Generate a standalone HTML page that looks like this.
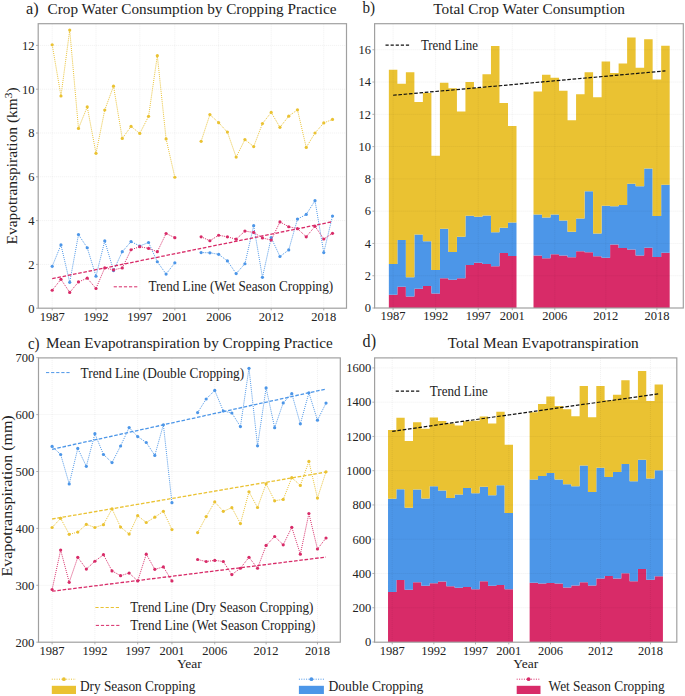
<!DOCTYPE html><html><head><meta charset="utf-8"><style>html,body{margin:0;padding:0;background:#fff;}svg{display:block;}</style></head><body>
<svg width="685" height="696" viewBox="0 0 685 696" font-family='"Liberation Serif", serif' fill="#222222">
<rect width="685" height="696" fill="#fff"/>
<line x1="52.20" y1="23.70" x2="52.20" y2="308.20" stroke="rgba(0,0,0,0.07)" stroke-width="0.9" stroke-dasharray="1 1"/>
<line x1="96.00" y1="23.70" x2="96.00" y2="308.20" stroke="rgba(0,0,0,0.07)" stroke-width="0.9" stroke-dasharray="1 1"/>
<line x1="139.80" y1="23.70" x2="139.80" y2="308.20" stroke="rgba(0,0,0,0.07)" stroke-width="0.9" stroke-dasharray="1 1"/>
<line x1="174.84" y1="23.70" x2="174.84" y2="308.20" stroke="rgba(0,0,0,0.07)" stroke-width="0.9" stroke-dasharray="1 1"/>
<line x1="218.64" y1="23.70" x2="218.64" y2="308.20" stroke="rgba(0,0,0,0.07)" stroke-width="0.9" stroke-dasharray="1 1"/>
<line x1="271.20" y1="23.70" x2="271.20" y2="308.20" stroke="rgba(0,0,0,0.07)" stroke-width="0.9" stroke-dasharray="1 1"/>
<line x1="323.76" y1="23.70" x2="323.76" y2="308.20" stroke="rgba(0,0,0,0.07)" stroke-width="0.9" stroke-dasharray="1 1"/>
<line x1="38.20" y1="264.40" x2="346.50" y2="264.40" stroke="rgba(0,0,0,0.07)" stroke-width="0.9" stroke-dasharray="1 1"/>
<line x1="38.20" y1="220.60" x2="346.50" y2="220.60" stroke="rgba(0,0,0,0.07)" stroke-width="0.9" stroke-dasharray="1 1"/>
<line x1="38.20" y1="176.80" x2="346.50" y2="176.80" stroke="rgba(0,0,0,0.07)" stroke-width="0.9" stroke-dasharray="1 1"/>
<line x1="38.20" y1="133.00" x2="346.50" y2="133.00" stroke="rgba(0,0,0,0.07)" stroke-width="0.9" stroke-dasharray="1 1"/>
<line x1="38.20" y1="89.20" x2="346.50" y2="89.20" stroke="rgba(0,0,0,0.07)" stroke-width="0.9" stroke-dasharray="1 1"/>
<line x1="38.20" y1="45.40" x2="346.50" y2="45.40" stroke="rgba(0,0,0,0.07)" stroke-width="0.9" stroke-dasharray="1 1"/>
<polyline points="52.20,44.74 60.96,95.99 69.72,30.07 78.48,128.40 87.24,106.94 96.00,153.37 104.76,110.00 113.52,86.13 122.28,138.47 131.04,126.43 139.80,133.44 148.56,116.36 157.32,55.69 166.08,138.91 174.84,177.24" fill="none" stroke="#eac232" stroke-width="1" stroke-dasharray="1 1.1"/>
<polyline points="201.12,141.32 209.88,114.60 218.64,122.71 227.40,132.12 236.16,157.09 244.92,139.57 253.68,146.58 262.44,123.58 271.20,112.41 279.96,127.31 288.72,116.14 297.48,109.79 306.24,147.45 315.00,133.00 323.76,122.93 332.52,119.42" fill="none" stroke="#eac232" stroke-width="1" stroke-dasharray="1 1.1"/>
<circle cx="52.20" cy="44.74" r="1.6" fill="#eac232"/>
<circle cx="60.96" cy="95.99" r="1.6" fill="#eac232"/>
<circle cx="69.72" cy="30.07" r="1.6" fill="#eac232"/>
<circle cx="78.48" cy="128.40" r="1.6" fill="#eac232"/>
<circle cx="87.24" cy="106.94" r="1.6" fill="#eac232"/>
<circle cx="96.00" cy="153.37" r="1.6" fill="#eac232"/>
<circle cx="104.76" cy="110.00" r="1.6" fill="#eac232"/>
<circle cx="113.52" cy="86.13" r="1.6" fill="#eac232"/>
<circle cx="122.28" cy="138.47" r="1.6" fill="#eac232"/>
<circle cx="131.04" cy="126.43" r="1.6" fill="#eac232"/>
<circle cx="139.80" cy="133.44" r="1.6" fill="#eac232"/>
<circle cx="148.56" cy="116.36" r="1.6" fill="#eac232"/>
<circle cx="157.32" cy="55.69" r="1.6" fill="#eac232"/>
<circle cx="166.08" cy="138.91" r="1.6" fill="#eac232"/>
<circle cx="174.84" cy="177.24" r="1.6" fill="#eac232"/>
<circle cx="201.12" cy="141.32" r="1.6" fill="#eac232"/>
<circle cx="209.88" cy="114.60" r="1.6" fill="#eac232"/>
<circle cx="218.64" cy="122.71" r="1.6" fill="#eac232"/>
<circle cx="227.40" cy="132.12" r="1.6" fill="#eac232"/>
<circle cx="236.16" cy="157.09" r="1.6" fill="#eac232"/>
<circle cx="244.92" cy="139.57" r="1.6" fill="#eac232"/>
<circle cx="253.68" cy="146.58" r="1.6" fill="#eac232"/>
<circle cx="262.44" cy="123.58" r="1.6" fill="#eac232"/>
<circle cx="271.20" cy="112.41" r="1.6" fill="#eac232"/>
<circle cx="279.96" cy="127.31" r="1.6" fill="#eac232"/>
<circle cx="288.72" cy="116.14" r="1.6" fill="#eac232"/>
<circle cx="297.48" cy="109.79" r="1.6" fill="#eac232"/>
<circle cx="306.24" cy="147.45" r="1.6" fill="#eac232"/>
<circle cx="315.00" cy="133.00" r="1.6" fill="#eac232"/>
<circle cx="323.76" cy="122.93" r="1.6" fill="#eac232"/>
<circle cx="332.52" cy="119.42" r="1.6" fill="#eac232"/>
<polyline points="52.20,266.37 60.96,244.91 69.72,282.36 78.48,234.62 87.24,247.76 96.00,276.23 104.76,240.97 113.52,270.53 122.28,251.70 131.04,241.62 139.80,246.00 148.56,242.50 157.32,261.77 166.08,274.04 174.84,262.87" fill="none" stroke="#4c96e8" stroke-width="1" stroke-dasharray="1 1.1"/>
<polyline points="201.12,252.57 209.88,252.79 218.64,254.33 227.40,260.90 236.16,273.60 244.92,263.74 253.68,225.64 262.44,277.32 271.20,237.68 279.96,256.52 288.72,249.95 297.48,219.07 306.24,214.47 315.00,200.67 323.76,252.57 332.52,216.00" fill="none" stroke="#4c96e8" stroke-width="1" stroke-dasharray="1 1.1"/>
<circle cx="52.20" cy="266.37" r="1.6" fill="#4c96e8"/>
<circle cx="60.96" cy="244.91" r="1.6" fill="#4c96e8"/>
<circle cx="69.72" cy="282.36" r="1.6" fill="#4c96e8"/>
<circle cx="78.48" cy="234.62" r="1.6" fill="#4c96e8"/>
<circle cx="87.24" cy="247.76" r="1.6" fill="#4c96e8"/>
<circle cx="96.00" cy="276.23" r="1.6" fill="#4c96e8"/>
<circle cx="104.76" cy="240.97" r="1.6" fill="#4c96e8"/>
<circle cx="113.52" cy="270.53" r="1.6" fill="#4c96e8"/>
<circle cx="122.28" cy="251.70" r="1.6" fill="#4c96e8"/>
<circle cx="131.04" cy="241.62" r="1.6" fill="#4c96e8"/>
<circle cx="139.80" cy="246.00" r="1.6" fill="#4c96e8"/>
<circle cx="148.56" cy="242.50" r="1.6" fill="#4c96e8"/>
<circle cx="157.32" cy="261.77" r="1.6" fill="#4c96e8"/>
<circle cx="166.08" cy="274.04" r="1.6" fill="#4c96e8"/>
<circle cx="174.84" cy="262.87" r="1.6" fill="#4c96e8"/>
<circle cx="201.12" cy="252.57" r="1.6" fill="#4c96e8"/>
<circle cx="209.88" cy="252.79" r="1.6" fill="#4c96e8"/>
<circle cx="218.64" cy="254.33" r="1.6" fill="#4c96e8"/>
<circle cx="227.40" cy="260.90" r="1.6" fill="#4c96e8"/>
<circle cx="236.16" cy="273.60" r="1.6" fill="#4c96e8"/>
<circle cx="244.92" cy="263.74" r="1.6" fill="#4c96e8"/>
<circle cx="253.68" cy="225.64" r="1.6" fill="#4c96e8"/>
<circle cx="262.44" cy="277.32" r="1.6" fill="#4c96e8"/>
<circle cx="271.20" cy="237.68" r="1.6" fill="#4c96e8"/>
<circle cx="279.96" cy="256.52" r="1.6" fill="#4c96e8"/>
<circle cx="288.72" cy="249.95" r="1.6" fill="#4c96e8"/>
<circle cx="297.48" cy="219.07" r="1.6" fill="#4c96e8"/>
<circle cx="306.24" cy="214.47" r="1.6" fill="#4c96e8"/>
<circle cx="315.00" cy="200.67" r="1.6" fill="#4c96e8"/>
<circle cx="323.76" cy="252.57" r="1.6" fill="#4c96e8"/>
<circle cx="332.52" cy="216.00" r="1.6" fill="#4c96e8"/>
<polyline points="52.20,290.24 60.96,279.29 69.72,292.43 78.48,281.92 87.24,278.20 96.00,288.49 104.76,267.90 113.52,269.88 122.28,267.90 131.04,249.73 139.80,246.66 148.56,248.41 157.32,251.70 166.08,233.52 174.84,237.68" fill="none" stroke="#d82b68" stroke-width="1" stroke-dasharray="1 1.1"/>
<polyline points="201.12,236.81 209.88,240.75 218.64,235.27 227.40,236.81 236.16,239.21 244.92,231.11 253.68,232.43 262.44,237.90 271.20,240.09 279.96,221.91 288.72,226.73 297.48,228.70 306.24,236.81 315.00,226.29 323.76,239.00 332.52,233.30" fill="none" stroke="#d82b68" stroke-width="1" stroke-dasharray="1 1.1"/>
<circle cx="52.20" cy="290.24" r="1.6" fill="#d82b68"/>
<circle cx="60.96" cy="279.29" r="1.6" fill="#d82b68"/>
<circle cx="69.72" cy="292.43" r="1.6" fill="#d82b68"/>
<circle cx="78.48" cy="281.92" r="1.6" fill="#d82b68"/>
<circle cx="87.24" cy="278.20" r="1.6" fill="#d82b68"/>
<circle cx="96.00" cy="288.49" r="1.6" fill="#d82b68"/>
<circle cx="104.76" cy="267.90" r="1.6" fill="#d82b68"/>
<circle cx="113.52" cy="269.88" r="1.6" fill="#d82b68"/>
<circle cx="122.28" cy="267.90" r="1.6" fill="#d82b68"/>
<circle cx="131.04" cy="249.73" r="1.6" fill="#d82b68"/>
<circle cx="139.80" cy="246.66" r="1.6" fill="#d82b68"/>
<circle cx="148.56" cy="248.41" r="1.6" fill="#d82b68"/>
<circle cx="157.32" cy="251.70" r="1.6" fill="#d82b68"/>
<circle cx="166.08" cy="233.52" r="1.6" fill="#d82b68"/>
<circle cx="174.84" cy="237.68" r="1.6" fill="#d82b68"/>
<circle cx="201.12" cy="236.81" r="1.6" fill="#d82b68"/>
<circle cx="209.88" cy="240.75" r="1.6" fill="#d82b68"/>
<circle cx="218.64" cy="235.27" r="1.6" fill="#d82b68"/>
<circle cx="227.40" cy="236.81" r="1.6" fill="#d82b68"/>
<circle cx="236.16" cy="239.21" r="1.6" fill="#d82b68"/>
<circle cx="244.92" cy="231.11" r="1.6" fill="#d82b68"/>
<circle cx="253.68" cy="232.43" r="1.6" fill="#d82b68"/>
<circle cx="262.44" cy="237.90" r="1.6" fill="#d82b68"/>
<circle cx="271.20" cy="240.09" r="1.6" fill="#d82b68"/>
<circle cx="279.96" cy="221.91" r="1.6" fill="#d82b68"/>
<circle cx="288.72" cy="226.73" r="1.6" fill="#d82b68"/>
<circle cx="297.48" cy="228.70" r="1.6" fill="#d82b68"/>
<circle cx="306.24" cy="236.81" r="1.6" fill="#d82b68"/>
<circle cx="315.00" cy="226.29" r="1.6" fill="#d82b68"/>
<circle cx="323.76" cy="239.00" r="1.6" fill="#d82b68"/>
<circle cx="332.52" cy="233.30" r="1.6" fill="#d82b68"/>
<line x1="52.20" y1="278.64" x2="332.52" y2="221.69" stroke="#d82b68" stroke-width="1.3" stroke-dasharray="3.6 1.7"/>
<rect x="38.20" y="23.70" width="308.30" height="284.50" fill="none" stroke="#a0a0a0" stroke-width="1.2"/>
<line x1="52.20" y1="308.20" x2="52.20" y2="310.40" stroke="#999" stroke-width="0.8"/>
<text x="52.20" y="320.60" text-anchor="middle" font-size="12.5">1987</text>
<line x1="96.00" y1="308.20" x2="96.00" y2="310.40" stroke="#999" stroke-width="0.8"/>
<text x="96.00" y="320.60" text-anchor="middle" font-size="12.5">1992</text>
<line x1="139.80" y1="308.20" x2="139.80" y2="310.40" stroke="#999" stroke-width="0.8"/>
<text x="139.80" y="320.60" text-anchor="middle" font-size="12.5">1997</text>
<line x1="174.84" y1="308.20" x2="174.84" y2="310.40" stroke="#999" stroke-width="0.8"/>
<text x="174.84" y="320.60" text-anchor="middle" font-size="12.5">2001</text>
<line x1="218.64" y1="308.20" x2="218.64" y2="310.40" stroke="#999" stroke-width="0.8"/>
<text x="218.64" y="320.60" text-anchor="middle" font-size="12.5">2006</text>
<line x1="271.20" y1="308.20" x2="271.20" y2="310.40" stroke="#999" stroke-width="0.8"/>
<text x="271.20" y="320.60" text-anchor="middle" font-size="12.5">2012</text>
<line x1="323.76" y1="308.20" x2="323.76" y2="310.40" stroke="#999" stroke-width="0.8"/>
<text x="323.76" y="320.60" text-anchor="middle" font-size="12.5">2018</text>
<line x1="36.00" y1="308.20" x2="38.20" y2="308.20" stroke="#999" stroke-width="0.8"/>
<text x="34.50" y="312.50" text-anchor="end" font-size="12.5">0</text>
<line x1="36.00" y1="264.40" x2="38.20" y2="264.40" stroke="#999" stroke-width="0.8"/>
<text x="34.50" y="268.70" text-anchor="end" font-size="12.5">2</text>
<line x1="36.00" y1="220.60" x2="38.20" y2="220.60" stroke="#999" stroke-width="0.8"/>
<text x="34.50" y="224.90" text-anchor="end" font-size="12.5">4</text>
<line x1="36.00" y1="176.80" x2="38.20" y2="176.80" stroke="#999" stroke-width="0.8"/>
<text x="34.50" y="181.10" text-anchor="end" font-size="12.5">6</text>
<line x1="36.00" y1="133.00" x2="38.20" y2="133.00" stroke="#999" stroke-width="0.8"/>
<text x="34.50" y="137.30" text-anchor="end" font-size="12.5">8</text>
<line x1="36.00" y1="89.20" x2="38.20" y2="89.20" stroke="#999" stroke-width="0.8"/>
<text x="34.50" y="93.50" text-anchor="end" font-size="12.5">10</text>
<line x1="36.00" y1="45.40" x2="38.20" y2="45.40" stroke="#999" stroke-width="0.8"/>
<text x="34.50" y="49.70" text-anchor="end" font-size="12.5">12</text>
<line x1="113.7" y1="286.8" x2="138" y2="286.8" stroke="#d82b68" stroke-width="1" stroke-dasharray="3.2 1.9"/>
<text x="148.40" y="291.10" font-size="14.3" text-anchor="start" textLength="184.70" lengthAdjust="spacingAndGlyphs">Trend Line (Wet Season Cropping)</text>
<text x="26.00" y="13.50" font-size="17.5" text-anchor="start" textLength="12.60" lengthAdjust="spacingAndGlyphs">a)</text>
<text x="47.60" y="13.70" font-size="15" text-anchor="start" textLength="288.90" lengthAdjust="spacingAndGlyphs">Crop Water Consumption by Cropping Practice</text>
<text transform="translate(17.1,244.4) rotate(-90)" font-size="15" textLength="157" lengthAdjust="spacingAndGlyphs">Evapotranspiration (km<tspan dy="-5.5" font-size="11">3</tspan><tspan dy="5.5">)</tspan></text>
<path d="M388.85,294.77 L397.36,294.77 L397.36,286.70 L405.87,286.70 L405.87,296.38 L414.38,296.38 L414.38,288.63 L422.88,288.63 L422.89,285.89 L431.40,285.89 L431.40,293.47 L439.91,293.47 L439.91,278.30 L448.42,278.30 L448.42,279.75 L456.93,279.75 L456.93,278.30 L465.44,278.30 L465.44,264.91 L473.95,264.91 L473.95,262.65 L482.46,262.65 L482.46,263.94 L490.97,263.94 L490.97,266.36 L499.48,266.36 L499.48,252.96 L507.99,252.96 L507.99,256.03 L516.50,256.03 L516.50,308.00 L507.99,308.00 L507.99,308.00 L499.48,308.00 L499.48,308.00 L490.97,308.00 L490.97,308.00 L482.46,308.00 L482.46,308.00 L473.95,308.00 L473.95,308.00 L465.44,308.00 L465.44,308.00 L456.93,308.00 L456.93,308.00 L448.42,308.00 L448.42,308.00 L439.91,308.00 L439.91,308.00 L431.40,308.00 L431.40,308.00 L422.89,308.00 L422.88,308.00 L414.38,308.00 L414.38,308.00 L405.87,308.00 L405.87,308.00 L397.36,308.00 L397.36,308.00 L388.85,308.00Z" fill="#d82b68"/>
<path d="M388.85,263.94 L397.36,263.94 L397.36,240.05 L405.87,240.05 L405.87,277.33 L414.38,277.33 L414.38,234.40 L422.88,234.40 L422.89,241.34 L431.40,241.34 L431.40,269.91 L439.91,269.91 L439.91,228.75 L448.42,228.75 L448.42,251.99 L456.93,251.99 L456.93,236.66 L465.44,236.66 L465.44,215.84 L473.95,215.84 L473.95,216.81 L482.46,216.81 L482.46,215.52 L490.97,215.52 L490.97,232.14 L499.48,232.14 L499.48,227.78 L507.99,227.78 L507.99,222.62 L516.50,222.62 L516.50,256.03 L507.99,256.03 L507.99,252.96 L499.48,252.96 L499.48,266.36 L490.97,266.36 L490.97,263.94 L482.46,263.94 L482.46,262.65 L473.95,262.65 L473.95,264.91 L465.44,264.91 L465.44,278.30 L456.93,278.30 L456.93,279.75 L448.42,279.75 L448.42,278.30 L439.91,278.30 L439.91,293.47 L431.40,293.47 L431.40,285.89 L422.89,285.89 L422.88,288.63 L414.38,288.63 L414.38,296.38 L405.87,296.38 L405.87,286.70 L397.36,286.70 L397.36,294.77 L388.85,294.77Z" fill="#4c96e8"/>
<path d="M388.85,69.77 L397.36,69.77 L397.36,83.65 L405.87,83.65 L405.87,72.36 L414.38,72.36 L414.38,101.89 L422.88,101.89 L422.89,93.02 L431.40,93.02 L431.40,155.80 L439.91,155.80 L439.91,82.69 L448.42,82.69 L448.42,88.33 L456.93,88.33 L456.93,111.58 L465.44,111.58 L465.44,81.88 L473.95,81.88 L473.95,88.01 L482.46,88.01 L482.46,74.13 L490.97,74.13 L490.97,46.05 L499.48,46.05 L499.48,103.02 L507.99,103.02 L507.99,126.10 L516.50,126.10 L516.50,222.62 L507.99,222.62 L507.99,227.78 L499.48,227.78 L499.48,232.14 L490.97,232.14 L490.97,215.52 L482.46,215.52 L482.46,216.81 L473.95,216.81 L473.95,215.84 L465.44,215.84 L465.44,236.66 L456.93,236.66 L456.93,251.99 L448.42,251.99 L448.42,228.75 L439.91,228.75 L439.91,269.91 L431.40,269.91 L431.40,241.34 L422.89,241.34 L422.88,234.40 L414.38,234.40 L414.38,277.33 L405.87,277.33 L405.87,240.05 L397.36,240.05 L397.36,263.94 L388.85,263.94Z" fill="#eac232"/>
<path d="M533.51,255.38 L542.02,255.38 L542.02,258.29 L550.53,258.29 L550.53,254.25 L559.04,254.25 L559.04,255.38 L567.55,255.38 L567.56,257.16 L576.07,257.16 L576.07,251.19 L584.58,251.19 L584.58,252.16 L593.09,252.16 L593.09,256.19 L601.60,256.19 L601.60,257.80 L610.11,257.80 L610.11,244.41 L618.62,244.41 L618.62,247.96 L627.12,247.96 L627.12,249.41 L635.63,249.41 L635.63,255.38 L644.14,255.38 L644.14,247.64 L652.65,247.64 L652.66,257.00 L661.17,257.00 L661.17,252.80 L669.68,252.80 L669.68,308.00 L661.17,308.00 L661.17,308.00 L652.66,308.00 L652.65,308.00 L644.14,308.00 L644.14,308.00 L635.63,308.00 L635.63,308.00 L627.12,308.00 L627.12,308.00 L618.62,308.00 L618.62,308.00 L610.11,308.00 L610.11,308.00 L601.60,308.00 L601.60,308.00 L593.09,308.00 L593.09,308.00 L584.58,308.00 L584.58,308.00 L576.07,308.00 L576.07,308.00 L567.56,308.00 L567.55,308.00 L559.04,308.00 L559.04,308.00 L550.53,308.00 L550.53,308.00 L542.02,308.00 L542.02,308.00 L533.51,308.00Z" fill="#d82b68"/>
<path d="M533.51,214.39 L542.02,214.39 L542.02,217.45 L550.53,217.45 L550.53,214.55 L559.04,214.55 L559.04,220.52 L567.55,220.52 L567.56,231.66 L576.07,231.66 L576.07,218.42 L584.58,218.42 L584.58,191.31 L593.09,191.31 L593.09,233.43 L601.60,233.43 L601.60,205.83 L610.11,205.83 L610.11,206.32 L618.62,206.32 L618.62,205.03 L627.12,205.03 L627.12,183.72 L635.63,183.72 L635.63,186.30 L644.14,186.30 L644.14,168.39 L652.65,168.39 L652.66,216.00 L661.17,216.00 L661.17,184.85 L669.68,184.85 L669.68,252.80 L661.17,252.80 L661.17,257.00 L652.66,257.00 L652.65,247.64 L644.14,247.64 L644.14,255.38 L635.63,255.38 L635.63,249.41 L627.12,249.41 L627.12,247.96 L618.62,247.96 L618.62,244.41 L610.11,244.41 L610.11,257.80 L601.60,257.80 L601.60,256.19 L593.09,256.19 L593.09,252.16 L584.58,252.16 L584.58,251.19 L576.07,251.19 L576.07,257.16 L567.56,257.16 L567.55,255.38 L559.04,255.38 L559.04,254.25 L550.53,254.25 L550.53,258.29 L542.02,258.29 L542.02,255.38 L533.51,255.38Z" fill="#4c96e8"/>
<path d="M533.51,91.40 L542.02,91.40 L542.02,74.78 L550.53,74.78 L550.53,77.84 L559.04,77.84 L559.04,90.76 L567.55,90.76 L567.56,120.29 L576.07,120.29 L576.07,94.14 L584.58,94.14 L584.58,72.19 L593.09,72.19 L593.09,97.37 L601.60,97.37 L601.60,61.54 L610.11,61.54 L610.11,73.00 L618.62,73.00 L618.62,63.48 L627.12,63.48 L627.12,37.49 L635.63,37.49 L635.63,67.84 L644.14,67.84 L644.14,39.27 L652.65,39.27 L652.66,79.46 L661.17,79.46 L661.17,45.72 L669.68,45.72 L669.68,184.85 L661.17,184.85 L661.17,216.00 L652.66,216.00 L652.65,168.39 L644.14,168.39 L644.14,186.30 L635.63,186.30 L635.63,183.72 L627.12,183.72 L627.12,205.03 L618.62,205.03 L618.62,206.32 L610.11,206.32 L610.11,205.83 L601.60,205.83 L601.60,233.43 L593.09,233.43 L593.09,191.31 L584.58,191.31 L584.58,218.42 L576.07,218.42 L576.07,231.66 L567.56,231.66 L567.55,220.52 L559.04,220.52 L559.04,214.55 L550.53,214.55 L550.53,217.45 L542.02,217.45 L542.02,214.39 L533.51,214.39Z" fill="#eac232"/>
<line x1="393.10" y1="23.70" x2="393.10" y2="308.00" stroke="rgba(0,0,0,0.07)" stroke-width="0.9" stroke-dasharray="1 1"/>
<line x1="435.65" y1="23.70" x2="435.65" y2="308.00" stroke="rgba(0,0,0,0.07)" stroke-width="0.9" stroke-dasharray="1 1"/>
<line x1="478.20" y1="23.70" x2="478.20" y2="308.00" stroke="rgba(0,0,0,0.07)" stroke-width="0.9" stroke-dasharray="1 1"/>
<line x1="512.24" y1="23.70" x2="512.24" y2="308.00" stroke="rgba(0,0,0,0.07)" stroke-width="0.9" stroke-dasharray="1 1"/>
<line x1="554.79" y1="23.70" x2="554.79" y2="308.00" stroke="rgba(0,0,0,0.07)" stroke-width="0.9" stroke-dasharray="1 1"/>
<line x1="605.85" y1="23.70" x2="605.85" y2="308.00" stroke="rgba(0,0,0,0.07)" stroke-width="0.9" stroke-dasharray="1 1"/>
<line x1="656.91" y1="23.70" x2="656.91" y2="308.00" stroke="rgba(0,0,0,0.07)" stroke-width="0.9" stroke-dasharray="1 1"/>
<line x1="374.60" y1="275.72" x2="683.30" y2="275.72" stroke="rgba(0,0,0,0.07)" stroke-width="0.9" stroke-dasharray="1 1"/>
<line x1="374.60" y1="243.44" x2="683.30" y2="243.44" stroke="rgba(0,0,0,0.07)" stroke-width="0.9" stroke-dasharray="1 1"/>
<line x1="374.60" y1="211.16" x2="683.30" y2="211.16" stroke="rgba(0,0,0,0.07)" stroke-width="0.9" stroke-dasharray="1 1"/>
<line x1="374.60" y1="178.88" x2="683.30" y2="178.88" stroke="rgba(0,0,0,0.07)" stroke-width="0.9" stroke-dasharray="1 1"/>
<line x1="374.60" y1="146.60" x2="683.30" y2="146.60" stroke="rgba(0,0,0,0.07)" stroke-width="0.9" stroke-dasharray="1 1"/>
<line x1="374.60" y1="114.32" x2="683.30" y2="114.32" stroke="rgba(0,0,0,0.07)" stroke-width="0.9" stroke-dasharray="1 1"/>
<line x1="374.60" y1="82.04" x2="683.30" y2="82.04" stroke="rgba(0,0,0,0.07)" stroke-width="0.9" stroke-dasharray="1 1"/>
<line x1="374.60" y1="49.76" x2="683.30" y2="49.76" stroke="rgba(0,0,0,0.07)" stroke-width="0.9" stroke-dasharray="1 1"/>
<line x1="393.10" y1="95.27" x2="665.42" y2="70.90" stroke="#111" stroke-width="1.2" stroke-dasharray="3.6 1.7"/>
<rect x="374.60" y="23.70" width="308.70" height="284.30" fill="none" stroke="#a0a0a0" stroke-width="1.2"/>
<line x1="393.10" y1="308.00" x2="393.10" y2="310.20" stroke="#999" stroke-width="0.8"/>
<text x="393.10" y="320.00" text-anchor="middle" font-size="12.5">1987</text>
<line x1="435.65" y1="308.00" x2="435.65" y2="310.20" stroke="#999" stroke-width="0.8"/>
<text x="435.65" y="320.00" text-anchor="middle" font-size="12.5">1992</text>
<line x1="478.20" y1="308.00" x2="478.20" y2="310.20" stroke="#999" stroke-width="0.8"/>
<text x="478.20" y="320.00" text-anchor="middle" font-size="12.5">1997</text>
<line x1="512.24" y1="308.00" x2="512.24" y2="310.20" stroke="#999" stroke-width="0.8"/>
<text x="512.24" y="320.00" text-anchor="middle" font-size="12.5">2001</text>
<line x1="554.79" y1="308.00" x2="554.79" y2="310.20" stroke="#999" stroke-width="0.8"/>
<text x="554.79" y="320.00" text-anchor="middle" font-size="12.5">2006</text>
<line x1="605.85" y1="308.00" x2="605.85" y2="310.20" stroke="#999" stroke-width="0.8"/>
<text x="605.85" y="320.00" text-anchor="middle" font-size="12.5">2012</text>
<line x1="656.91" y1="308.00" x2="656.91" y2="310.20" stroke="#999" stroke-width="0.8"/>
<text x="656.91" y="320.00" text-anchor="middle" font-size="12.5">2018</text>
<line x1="372.40" y1="308.00" x2="374.60" y2="308.00" stroke="#999" stroke-width="0.8"/>
<text x="371.10" y="312.30" text-anchor="end" font-size="12.5">0</text>
<line x1="372.40" y1="275.72" x2="374.60" y2="275.72" stroke="#999" stroke-width="0.8"/>
<text x="371.10" y="280.02" text-anchor="end" font-size="12.5">2</text>
<line x1="372.40" y1="243.44" x2="374.60" y2="243.44" stroke="#999" stroke-width="0.8"/>
<text x="371.10" y="247.74" text-anchor="end" font-size="12.5">4</text>
<line x1="372.40" y1="211.16" x2="374.60" y2="211.16" stroke="#999" stroke-width="0.8"/>
<text x="371.10" y="215.46" text-anchor="end" font-size="12.5">6</text>
<line x1="372.40" y1="178.88" x2="374.60" y2="178.88" stroke="#999" stroke-width="0.8"/>
<text x="371.10" y="183.18" text-anchor="end" font-size="12.5">8</text>
<line x1="372.40" y1="146.60" x2="374.60" y2="146.60" stroke="#999" stroke-width="0.8"/>
<text x="371.10" y="150.90" text-anchor="end" font-size="12.5">10</text>
<line x1="372.40" y1="114.32" x2="374.60" y2="114.32" stroke="#999" stroke-width="0.8"/>
<text x="371.10" y="118.62" text-anchor="end" font-size="12.5">12</text>
<line x1="372.40" y1="82.04" x2="374.60" y2="82.04" stroke="#999" stroke-width="0.8"/>
<text x="371.10" y="86.34" text-anchor="end" font-size="12.5">14</text>
<line x1="372.40" y1="49.76" x2="374.60" y2="49.76" stroke="#999" stroke-width="0.8"/>
<text x="371.10" y="54.06" text-anchor="end" font-size="12.5">16</text>
<line x1="385.5" y1="45.1" x2="410" y2="45.1" stroke="#111" stroke-width="1.3" stroke-dasharray="3.2 1.9"/>
<text x="420.90" y="49.50" font-size="14.3" text-anchor="start" textLength="57.10" lengthAdjust="spacingAndGlyphs">Trend Line</text>
<text x="362.40" y="13.30" font-size="17.5" text-anchor="start" textLength="12.60" lengthAdjust="spacingAndGlyphs">b)</text>
<text x="433.20" y="13.90" font-size="15" text-anchor="start" textLength="191.80" lengthAdjust="spacingAndGlyphs">Total Crop Water Consumption</text>
<line x1="52.10" y1="357.90" x2="52.10" y2="642.20" stroke="rgba(0,0,0,0.07)" stroke-width="0.9" stroke-dasharray="1 1"/>
<line x1="94.90" y1="357.90" x2="94.90" y2="642.20" stroke="rgba(0,0,0,0.07)" stroke-width="0.9" stroke-dasharray="1 1"/>
<line x1="137.70" y1="357.90" x2="137.70" y2="642.20" stroke="rgba(0,0,0,0.07)" stroke-width="0.9" stroke-dasharray="1 1"/>
<line x1="171.94" y1="357.90" x2="171.94" y2="642.20" stroke="rgba(0,0,0,0.07)" stroke-width="0.9" stroke-dasharray="1 1"/>
<line x1="214.74" y1="357.90" x2="214.74" y2="642.20" stroke="rgba(0,0,0,0.07)" stroke-width="0.9" stroke-dasharray="1 1"/>
<line x1="266.10" y1="357.90" x2="266.10" y2="642.20" stroke="rgba(0,0,0,0.07)" stroke-width="0.9" stroke-dasharray="1 1"/>
<line x1="317.46" y1="357.90" x2="317.46" y2="642.20" stroke="rgba(0,0,0,0.07)" stroke-width="0.9" stroke-dasharray="1 1"/>
<line x1="38.50" y1="585.30" x2="340.30" y2="585.30" stroke="rgba(0,0,0,0.07)" stroke-width="0.9" stroke-dasharray="1 1"/>
<line x1="38.50" y1="528.40" x2="340.30" y2="528.40" stroke="rgba(0,0,0,0.07)" stroke-width="0.9" stroke-dasharray="1 1"/>
<line x1="38.50" y1="471.50" x2="340.30" y2="471.50" stroke="rgba(0,0,0,0.07)" stroke-width="0.9" stroke-dasharray="1 1"/>
<line x1="38.50" y1="414.60" x2="340.30" y2="414.60" stroke="rgba(0,0,0,0.07)" stroke-width="0.9" stroke-dasharray="1 1"/>
<polyline points="52.10,446.41 60.66,454.49 69.22,483.90 77.78,448.40 86.34,466.32 94.90,433.72 103.46,454.49 112.02,462.62 120.58,446.01 129.14,427.57 137.70,436.62 146.26,442.48 154.82,455.40 163.38,424.73 171.94,502.68" fill="none" stroke="#4c96e8" stroke-width="1" stroke-dasharray="1 1.1"/>
<polyline points="197.62,412.61 206.18,399.01 214.74,390.42 223.30,411.02 231.86,413.01 240.42,426.61 248.98,368.28 257.54,445.78 266.10,387.97 274.66,427.69 283.22,402.88 291.78,393.72 300.34,423.87 308.90,392.81 317.46,420.18 326.02,403.11" fill="none" stroke="#4c96e8" stroke-width="1" stroke-dasharray="1 1.1"/>
<circle cx="52.10" cy="446.41" r="1.6" fill="#4c96e8"/>
<circle cx="60.66" cy="454.49" r="1.6" fill="#4c96e8"/>
<circle cx="69.22" cy="483.90" r="1.6" fill="#4c96e8"/>
<circle cx="77.78" cy="448.40" r="1.6" fill="#4c96e8"/>
<circle cx="86.34" cy="466.32" r="1.6" fill="#4c96e8"/>
<circle cx="94.90" cy="433.72" r="1.6" fill="#4c96e8"/>
<circle cx="103.46" cy="454.49" r="1.6" fill="#4c96e8"/>
<circle cx="112.02" cy="462.62" r="1.6" fill="#4c96e8"/>
<circle cx="120.58" cy="446.01" r="1.6" fill="#4c96e8"/>
<circle cx="129.14" cy="427.57" r="1.6" fill="#4c96e8"/>
<circle cx="137.70" cy="436.62" r="1.6" fill="#4c96e8"/>
<circle cx="146.26" cy="442.48" r="1.6" fill="#4c96e8"/>
<circle cx="154.82" cy="455.40" r="1.6" fill="#4c96e8"/>
<circle cx="163.38" cy="424.73" r="1.6" fill="#4c96e8"/>
<circle cx="171.94" cy="502.68" r="1.6" fill="#4c96e8"/>
<circle cx="197.62" cy="412.61" r="1.6" fill="#4c96e8"/>
<circle cx="206.18" cy="399.01" r="1.6" fill="#4c96e8"/>
<circle cx="214.74" cy="390.42" r="1.6" fill="#4c96e8"/>
<circle cx="223.30" cy="411.02" r="1.6" fill="#4c96e8"/>
<circle cx="231.86" cy="413.01" r="1.6" fill="#4c96e8"/>
<circle cx="240.42" cy="426.61" r="1.6" fill="#4c96e8"/>
<circle cx="248.98" cy="368.28" r="1.6" fill="#4c96e8"/>
<circle cx="257.54" cy="445.78" r="1.6" fill="#4c96e8"/>
<circle cx="266.10" cy="387.97" r="1.6" fill="#4c96e8"/>
<circle cx="274.66" cy="427.69" r="1.6" fill="#4c96e8"/>
<circle cx="283.22" cy="402.88" r="1.6" fill="#4c96e8"/>
<circle cx="291.78" cy="393.72" r="1.6" fill="#4c96e8"/>
<circle cx="300.34" cy="423.87" r="1.6" fill="#4c96e8"/>
<circle cx="308.90" cy="392.81" r="1.6" fill="#4c96e8"/>
<circle cx="317.46" cy="420.18" r="1.6" fill="#4c96e8"/>
<circle cx="326.02" cy="403.11" r="1.6" fill="#4c96e8"/>
<polyline points="52.10,527.49 60.66,518.33 69.22,534.32 77.78,532.10 86.34,524.42 94.90,527.49 103.46,524.70 112.02,508.88 120.58,527.09 129.14,534.09 137.70,515.71 146.26,522.48 154.82,517.19 163.38,511.33 171.94,529.54" fill="none" stroke="#eac232" stroke-width="1" stroke-dasharray="1 1.1"/>
<polyline points="197.62,532.61 206.18,516.62 214.74,501.88 223.30,511.33 231.86,507.63 240.42,523.56 248.98,491.87 257.54,507.52 266.10,483.85 274.66,500.80 283.22,499.38 291.78,477.70 300.34,485.38 308.90,461.43 317.46,498.07 326.02,471.78" fill="none" stroke="#eac232" stroke-width="1" stroke-dasharray="1 1.1"/>
<circle cx="52.10" cy="527.49" r="1.6" fill="#eac232"/>
<circle cx="60.66" cy="518.33" r="1.6" fill="#eac232"/>
<circle cx="69.22" cy="534.32" r="1.6" fill="#eac232"/>
<circle cx="77.78" cy="532.10" r="1.6" fill="#eac232"/>
<circle cx="86.34" cy="524.42" r="1.6" fill="#eac232"/>
<circle cx="94.90" cy="527.49" r="1.6" fill="#eac232"/>
<circle cx="103.46" cy="524.70" r="1.6" fill="#eac232"/>
<circle cx="112.02" cy="508.88" r="1.6" fill="#eac232"/>
<circle cx="120.58" cy="527.09" r="1.6" fill="#eac232"/>
<circle cx="129.14" cy="534.09" r="1.6" fill="#eac232"/>
<circle cx="137.70" cy="515.71" r="1.6" fill="#eac232"/>
<circle cx="146.26" cy="522.48" r="1.6" fill="#eac232"/>
<circle cx="154.82" cy="517.19" r="1.6" fill="#eac232"/>
<circle cx="163.38" cy="511.33" r="1.6" fill="#eac232"/>
<circle cx="171.94" cy="529.54" r="1.6" fill="#eac232"/>
<circle cx="197.62" cy="532.61" r="1.6" fill="#eac232"/>
<circle cx="206.18" cy="516.62" r="1.6" fill="#eac232"/>
<circle cx="214.74" cy="501.88" r="1.6" fill="#eac232"/>
<circle cx="223.30" cy="511.33" r="1.6" fill="#eac232"/>
<circle cx="231.86" cy="507.63" r="1.6" fill="#eac232"/>
<circle cx="240.42" cy="523.56" r="1.6" fill="#eac232"/>
<circle cx="248.98" cy="491.87" r="1.6" fill="#eac232"/>
<circle cx="257.54" cy="507.52" r="1.6" fill="#eac232"/>
<circle cx="266.10" cy="483.85" r="1.6" fill="#eac232"/>
<circle cx="274.66" cy="500.80" r="1.6" fill="#eac232"/>
<circle cx="283.22" cy="499.38" r="1.6" fill="#eac232"/>
<circle cx="291.78" cy="477.70" r="1.6" fill="#eac232"/>
<circle cx="300.34" cy="485.38" r="1.6" fill="#eac232"/>
<circle cx="308.90" cy="461.43" r="1.6" fill="#eac232"/>
<circle cx="317.46" cy="498.07" r="1.6" fill="#eac232"/>
<circle cx="326.02" cy="471.78" r="1.6" fill="#eac232"/>
<polyline points="52.10,589.51 60.66,550.08 69.22,582.28 77.78,557.31 86.34,569.08 94.90,561.23 103.46,554.69 112.02,570.90 120.58,575.68 129.14,573.07 137.70,580.92 146.26,554.18 154.82,569.31 163.38,566.92 171.94,580.92" fill="none" stroke="#d82b68" stroke-width="1" stroke-dasharray="1 1.1"/>
<polyline points="197.62,559.52 206.18,561.52 214.74,560.38 223.30,561.52 231.86,574.60 240.42,568.23 248.98,557.31 257.54,568.23 266.10,545.47 274.66,536.48 283.22,544.79 291.78,527.32 300.34,554.18 308.90,513.49 317.46,549.00 326.02,538.02" fill="none" stroke="#d82b68" stroke-width="1" stroke-dasharray="1 1.1"/>
<circle cx="52.10" cy="589.51" r="1.6" fill="#d82b68"/>
<circle cx="60.66" cy="550.08" r="1.6" fill="#d82b68"/>
<circle cx="69.22" cy="582.28" r="1.6" fill="#d82b68"/>
<circle cx="77.78" cy="557.31" r="1.6" fill="#d82b68"/>
<circle cx="86.34" cy="569.08" r="1.6" fill="#d82b68"/>
<circle cx="94.90" cy="561.23" r="1.6" fill="#d82b68"/>
<circle cx="103.46" cy="554.69" r="1.6" fill="#d82b68"/>
<circle cx="112.02" cy="570.90" r="1.6" fill="#d82b68"/>
<circle cx="120.58" cy="575.68" r="1.6" fill="#d82b68"/>
<circle cx="129.14" cy="573.07" r="1.6" fill="#d82b68"/>
<circle cx="137.70" cy="580.92" r="1.6" fill="#d82b68"/>
<circle cx="146.26" cy="554.18" r="1.6" fill="#d82b68"/>
<circle cx="154.82" cy="569.31" r="1.6" fill="#d82b68"/>
<circle cx="163.38" cy="566.92" r="1.6" fill="#d82b68"/>
<circle cx="171.94" cy="580.92" r="1.6" fill="#d82b68"/>
<circle cx="197.62" cy="559.52" r="1.6" fill="#d82b68"/>
<circle cx="206.18" cy="561.52" r="1.6" fill="#d82b68"/>
<circle cx="214.74" cy="560.38" r="1.6" fill="#d82b68"/>
<circle cx="223.30" cy="561.52" r="1.6" fill="#d82b68"/>
<circle cx="231.86" cy="574.60" r="1.6" fill="#d82b68"/>
<circle cx="240.42" cy="568.23" r="1.6" fill="#d82b68"/>
<circle cx="248.98" cy="557.31" r="1.6" fill="#d82b68"/>
<circle cx="257.54" cy="568.23" r="1.6" fill="#d82b68"/>
<circle cx="266.10" cy="545.47" r="1.6" fill="#d82b68"/>
<circle cx="274.66" cy="536.48" r="1.6" fill="#d82b68"/>
<circle cx="283.22" cy="544.79" r="1.6" fill="#d82b68"/>
<circle cx="291.78" cy="527.32" r="1.6" fill="#d82b68"/>
<circle cx="300.34" cy="554.18" r="1.6" fill="#d82b68"/>
<circle cx="308.90" cy="513.49" r="1.6" fill="#d82b68"/>
<circle cx="317.46" cy="549.00" r="1.6" fill="#d82b68"/>
<circle cx="326.02" cy="538.02" r="1.6" fill="#d82b68"/>
<line x1="52.10" y1="449.31" x2="326.02" y2="389.00" stroke="#4c96e8" stroke-width="1.3" stroke-dasharray="3.6 1.7"/>
<line x1="52.10" y1="519.01" x2="326.02" y2="472.07" stroke="#eac232" stroke-width="1.3" stroke-dasharray="3.6 1.7"/>
<line x1="52.10" y1="591.22" x2="326.02" y2="557.08" stroke="#d82b68" stroke-width="1.3" stroke-dasharray="3.6 1.7"/>
<rect x="38.50" y="357.90" width="301.80" height="284.30" fill="none" stroke="#a0a0a0" stroke-width="1.2"/>
<line x1="52.10" y1="642.20" x2="52.10" y2="644.40" stroke="#999" stroke-width="0.8"/>
<text x="52.10" y="654.70" text-anchor="middle" font-size="12.5">1987</text>
<line x1="94.90" y1="642.20" x2="94.90" y2="644.40" stroke="#999" stroke-width="0.8"/>
<text x="94.90" y="654.70" text-anchor="middle" font-size="12.5">1992</text>
<line x1="137.70" y1="642.20" x2="137.70" y2="644.40" stroke="#999" stroke-width="0.8"/>
<text x="137.70" y="654.70" text-anchor="middle" font-size="12.5">1997</text>
<line x1="171.94" y1="642.20" x2="171.94" y2="644.40" stroke="#999" stroke-width="0.8"/>
<text x="171.94" y="654.70" text-anchor="middle" font-size="12.5">2001</text>
<line x1="214.74" y1="642.20" x2="214.74" y2="644.40" stroke="#999" stroke-width="0.8"/>
<text x="214.74" y="654.70" text-anchor="middle" font-size="12.5">2006</text>
<line x1="266.10" y1="642.20" x2="266.10" y2="644.40" stroke="#999" stroke-width="0.8"/>
<text x="266.10" y="654.70" text-anchor="middle" font-size="12.5">2012</text>
<line x1="317.46" y1="642.20" x2="317.46" y2="644.40" stroke="#999" stroke-width="0.8"/>
<text x="317.46" y="654.70" text-anchor="middle" font-size="12.5">2018</text>
<line x1="36.30" y1="642.20" x2="38.50" y2="642.20" stroke="#999" stroke-width="0.8"/>
<text x="34.20" y="646.50" text-anchor="end" font-size="12.5">200</text>
<line x1="36.30" y1="585.30" x2="38.50" y2="585.30" stroke="#999" stroke-width="0.8"/>
<text x="34.20" y="589.60" text-anchor="end" font-size="12.5">300</text>
<line x1="36.30" y1="528.40" x2="38.50" y2="528.40" stroke="#999" stroke-width="0.8"/>
<text x="34.20" y="532.70" text-anchor="end" font-size="12.5">400</text>
<line x1="36.30" y1="471.50" x2="38.50" y2="471.50" stroke="#999" stroke-width="0.8"/>
<text x="34.20" y="475.80" text-anchor="end" font-size="12.5">500</text>
<line x1="36.30" y1="414.60" x2="38.50" y2="414.60" stroke="#999" stroke-width="0.8"/>
<text x="34.20" y="418.90" text-anchor="end" font-size="12.5">600</text>
<line x1="36.30" y1="357.70" x2="38.50" y2="357.70" stroke="#999" stroke-width="0.8"/>
<text x="34.20" y="362.00" text-anchor="end" font-size="12.5">700</text>
<line x1="46" y1="372.6" x2="71" y2="372.6" stroke="#4c96e8" stroke-width="1" stroke-dasharray="3.2 1.9"/>
<text x="80.60" y="377.90" font-size="14.3" text-anchor="start" textLength="163.50" lengthAdjust="spacingAndGlyphs">Trend Line (Double Cropping)</text>
<line x1="95.4" y1="607.5" x2="120" y2="607.5" stroke="#eac232" stroke-width="1" stroke-dasharray="3.2 1.9"/>
<text x="130.30" y="611.90" font-size="14.3" text-anchor="start" textLength="183.00" lengthAdjust="spacingAndGlyphs">Trend Line (Dry Season Cropping)</text>
<line x1="95.8" y1="625.4" x2="120.3" y2="625.4" stroke="#d82b68" stroke-width="1" stroke-dasharray="3.2 1.9"/>
<text x="130.30" y="629.60" font-size="14.3" text-anchor="start" textLength="185.00" lengthAdjust="spacingAndGlyphs">Trend Line (Wet Season Cropping)</text>
<text x="27.90" y="348.60" font-size="17.5" text-anchor="start" textLength="11.60" lengthAdjust="spacingAndGlyphs">c)</text>
<text x="45.90" y="347.90" font-size="15" text-anchor="start" textLength="286.80" lengthAdjust="spacingAndGlyphs">Mean Evapotranspiration by Cropping Practice</text>
<text transform="translate(11.8,576.6) rotate(-90)" font-size="15" textLength="161.3" lengthAdjust="spacingAndGlyphs">Evapotranspiration (mm)</text>
<text x="189.40" y="667.70" font-size="13.5" text-anchor="middle">Year</text>
<path d="M388.03,591.88 L396.37,591.88 L396.36,580.01 L404.69,580.01 L404.69,589.70 L413.03,589.70 L413.02,582.18 L421.36,582.18 L421.35,585.73 L429.69,585.73 L429.68,583.36 L438.01,583.36 L438.01,581.39 L446.35,581.39 L446.34,586.28 L454.68,586.28 L454.67,587.72 L463.00,587.72 L463.00,586.93 L471.33,586.93 L471.33,589.29 L479.67,589.29 L479.66,581.24 L488.00,581.24 L487.99,585.80 L496.32,585.80 L496.32,585.08 L504.66,585.08 L504.65,589.29 L512.99,589.29 L512.99,642.00 L504.65,642.00 L504.66,642.00 L496.32,642.00 L496.32,642.00 L487.99,642.00 L488.00,642.00 L479.66,642.00 L479.67,642.00 L471.33,642.00 L471.33,642.00 L463.00,642.00 L463.00,642.00 L454.67,642.00 L454.68,642.00 L446.34,642.00 L446.35,642.00 L438.01,642.00 L438.01,642.00 L429.68,642.00 L429.69,642.00 L421.35,642.00 L421.36,642.00 L413.02,642.00 L413.03,642.00 L404.69,642.00 L404.69,642.00 L396.36,642.00 L396.37,642.00 L388.03,642.00Z" fill="#d82b68"/>
<path d="M388.03,498.67 L396.37,498.67 L396.36,489.23 L404.69,489.23 L404.69,507.79 L413.03,507.79 L413.02,489.58 L421.36,489.58 L421.35,498.52 L429.69,498.52 L429.68,486.34 L438.01,486.34 L438.01,490.62 L446.35,490.62 L446.34,497.95 L454.68,497.95 L454.67,494.39 L463.00,494.39 L463.00,488.05 L471.33,488.05 L471.33,493.14 L479.67,493.14 L479.66,486.85 L488.00,486.85 L487.99,495.30 L496.32,495.30 L496.32,485.35 L504.66,485.35 L504.65,513.03 L512.99,513.03 L512.99,589.29 L504.65,589.29 L504.66,585.08 L496.32,585.08 L496.32,585.80 L487.99,585.80 L488.00,581.24 L479.66,581.24 L479.67,589.29 L471.33,589.29 L471.33,586.93 L463.00,586.93 L463.00,587.72 L454.67,587.72 L454.68,586.28 L446.34,586.28 L446.35,581.39 L438.01,581.39 L438.01,583.36 L429.68,583.36 L429.69,585.73 L421.35,585.73 L421.36,582.18 L413.02,582.18 L413.03,589.70 L404.69,589.70 L404.69,580.01 L396.36,580.01 L396.37,591.88 L388.03,591.88Z" fill="#4c96e8"/>
<path d="M388.03,429.88 L396.37,429.88 L396.36,417.68 L404.69,417.68 L404.69,441.05 L413.03,441.05 L413.02,422.17 L421.36,422.17 L421.35,428.80 L429.69,428.80 L429.68,417.55 L438.01,417.55 L438.01,420.99 L446.35,420.99 L446.34,423.56 L454.68,423.56 L454.67,425.48 L463.00,425.48 L463.00,421.25 L471.33,421.25 L471.33,420.80 L479.67,420.80 L479.66,416.55 L488.00,416.55 L487.99,423.40 L496.32,423.40 L496.32,411.69 L504.66,411.69 L504.65,444.85 L512.99,444.85 L512.99,513.03 L504.65,513.03 L504.66,485.35 L496.32,485.35 L496.32,495.30 L487.99,495.30 L488.00,486.85 L479.66,486.85 L479.67,493.14 L471.33,493.14 L471.33,488.05 L463.00,488.05 L463.00,494.39 L454.67,494.39 L454.68,497.95 L446.34,497.95 L446.35,490.62 L438.01,490.62 L438.01,486.34 L429.68,486.34 L429.69,498.52 L421.35,498.52 L421.36,489.58 L413.02,489.58 L413.03,507.79 L404.69,507.79 L404.69,489.23 L396.36,489.23 L396.37,498.67 L388.03,498.67Z" fill="#eac232"/>
<path d="M529.64,582.85 L537.97,582.85 L537.98,583.45 L546.30,583.45 L546.31,583.11 L554.63,583.11 L554.63,583.45 L562.96,583.45 L562.97,587.39 L571.29,587.39 L571.30,585.47 L579.62,585.47 L579.62,582.18 L587.95,582.18 L587.96,585.47 L596.28,585.47 L596.29,578.62 L604.62,578.62 L604.62,575.91 L612.94,575.91 L612.95,578.41 L621.27,578.41 L621.28,573.15 L629.61,573.15 L629.61,581.24 L637.93,581.24 L637.94,568.99 L646.26,568.99 L646.27,579.68 L654.60,579.68 L654.60,576.37 L662.92,576.37 L662.92,642.00 L654.60,642.00 L654.60,642.00 L646.27,642.00 L646.26,642.00 L637.94,642.00 L637.93,642.00 L629.61,642.00 L629.61,642.00 L621.28,642.00 L621.27,642.00 L612.95,642.00 L612.94,642.00 L604.62,642.00 L604.62,642.00 L596.29,642.00 L596.28,642.00 L587.96,642.00 L587.95,642.00 L579.62,642.00 L579.62,642.00 L571.30,642.00 L571.29,642.00 L562.97,642.00 L562.96,642.00 L554.63,642.00 L554.63,642.00 L546.31,642.00 L546.30,642.00 L537.98,642.00 L537.97,642.00 L529.64,642.00Z" fill="#d82b68"/>
<path d="M529.64,479.47 L537.97,479.47 L537.98,475.98 L546.30,475.98 L546.31,473.05 L554.63,473.05 L554.63,479.59 L562.96,479.59 L562.97,484.13 L571.29,484.13 L571.30,486.31 L579.62,486.31 L579.62,465.46 L587.95,465.46 L587.96,492.08 L596.28,492.08 L596.29,467.82 L604.62,467.82 L604.62,477.07 L612.94,477.07 L612.95,472.10 L621.27,472.10 L621.28,464.09 L629.61,464.09 L629.61,481.25 L637.93,481.25 L637.94,459.65 L646.26,459.65 L646.27,478.58 L654.60,478.58 L654.60,470.13 L662.92,470.13 L662.92,576.37 L654.60,576.37 L654.60,579.68 L646.27,579.68 L646.26,568.99 L637.94,568.99 L637.93,581.24 L629.61,581.24 L629.61,573.15 L621.28,573.15 L621.27,578.41 L612.95,578.41 L612.94,575.91 L604.62,575.91 L604.62,578.62 L596.29,578.62 L596.28,585.47 L587.96,585.47 L587.95,582.18 L579.62,582.18 L579.62,585.47 L571.30,585.47 L571.29,587.39 L562.97,587.39 L562.96,583.45 L554.63,583.45 L554.63,583.11 L546.31,583.11 L546.30,583.45 L537.98,583.45 L537.97,582.85 L529.64,582.85Z" fill="#4c96e8"/>
<path d="M529.64,412.22 L537.97,412.22 L537.98,403.91 L546.30,403.91 L546.31,396.54 L554.63,396.54 L554.63,405.93 L562.96,405.93 L562.97,409.36 L571.29,409.36 L571.30,416.33 L579.62,416.33 L579.62,385.94 L587.95,385.94 L587.96,417.27 L596.28,417.27 L596.29,385.89 L604.62,385.89 L604.62,400.24 L612.94,400.24 L612.95,394.85 L621.27,394.85 L621.28,380.30 L629.61,380.30 L629.61,399.78 L637.93,399.78 L637.94,370.97 L646.26,370.97 L646.27,400.93 L654.60,400.93 L654.60,384.57 L662.92,384.57 L662.92,470.13 L654.60,470.13 L654.60,478.58 L646.27,478.58 L646.26,459.65 L637.94,459.65 L637.93,481.25 L629.61,481.25 L629.61,464.09 L621.28,464.09 L621.27,472.10 L612.95,472.10 L612.94,477.07 L604.62,477.07 L604.62,467.82 L596.29,467.82 L596.28,492.08 L587.96,492.08 L587.95,465.46 L579.62,465.46 L579.62,486.31 L571.30,486.31 L571.29,484.13 L562.97,484.13 L562.96,479.59 L554.63,479.59 L554.63,473.05 L546.31,473.05 L546.30,475.98 L537.98,475.98 L537.97,479.47 L529.64,479.47Z" fill="#eac232"/>
<line x1="392.20" y1="357.90" x2="392.20" y2="642.20" stroke="rgba(0,0,0,0.07)" stroke-width="0.9" stroke-dasharray="1 1"/>
<line x1="433.85" y1="357.90" x2="433.85" y2="642.20" stroke="rgba(0,0,0,0.07)" stroke-width="0.9" stroke-dasharray="1 1"/>
<line x1="475.50" y1="357.90" x2="475.50" y2="642.20" stroke="rgba(0,0,0,0.07)" stroke-width="0.9" stroke-dasharray="1 1"/>
<line x1="508.82" y1="357.90" x2="508.82" y2="642.20" stroke="rgba(0,0,0,0.07)" stroke-width="0.9" stroke-dasharray="1 1"/>
<line x1="550.47" y1="357.90" x2="550.47" y2="642.20" stroke="rgba(0,0,0,0.07)" stroke-width="0.9" stroke-dasharray="1 1"/>
<line x1="600.45" y1="357.90" x2="600.45" y2="642.20" stroke="rgba(0,0,0,0.07)" stroke-width="0.9" stroke-dasharray="1 1"/>
<line x1="650.43" y1="357.90" x2="650.43" y2="642.20" stroke="rgba(0,0,0,0.07)" stroke-width="0.9" stroke-dasharray="1 1"/>
<line x1="374.60" y1="607.74" x2="676.80" y2="607.74" stroke="rgba(0,0,0,0.07)" stroke-width="0.9" stroke-dasharray="1 1"/>
<line x1="374.60" y1="573.48" x2="676.80" y2="573.48" stroke="rgba(0,0,0,0.07)" stroke-width="0.9" stroke-dasharray="1 1"/>
<line x1="374.60" y1="539.22" x2="676.80" y2="539.22" stroke="rgba(0,0,0,0.07)" stroke-width="0.9" stroke-dasharray="1 1"/>
<line x1="374.60" y1="504.96" x2="676.80" y2="504.96" stroke="rgba(0,0,0,0.07)" stroke-width="0.9" stroke-dasharray="1 1"/>
<line x1="374.60" y1="470.70" x2="676.80" y2="470.70" stroke="rgba(0,0,0,0.07)" stroke-width="0.9" stroke-dasharray="1 1"/>
<line x1="374.60" y1="436.44" x2="676.80" y2="436.44" stroke="rgba(0,0,0,0.07)" stroke-width="0.9" stroke-dasharray="1 1"/>
<line x1="374.60" y1="402.18" x2="676.80" y2="402.18" stroke="rgba(0,0,0,0.07)" stroke-width="0.9" stroke-dasharray="1 1"/>
<line x1="374.60" y1="367.92" x2="676.80" y2="367.92" stroke="rgba(0,0,0,0.07)" stroke-width="0.9" stroke-dasharray="1 1"/>
<line x1="392.20" y1="431.30" x2="658.76" y2="393.79" stroke="#111" stroke-width="1.2" stroke-dasharray="3.6 1.7"/>
<rect x="374.60" y="357.90" width="302.20" height="284.30" fill="none" stroke="#a0a0a0" stroke-width="1.2"/>
<line x1="392.20" y1="642.20" x2="392.20" y2="644.40" stroke="#999" stroke-width="0.8"/>
<text x="392.20" y="654.60" text-anchor="middle" font-size="12.5">1987</text>
<line x1="433.85" y1="642.20" x2="433.85" y2="644.40" stroke="#999" stroke-width="0.8"/>
<text x="433.85" y="654.60" text-anchor="middle" font-size="12.5">1992</text>
<line x1="475.50" y1="642.20" x2="475.50" y2="644.40" stroke="#999" stroke-width="0.8"/>
<text x="475.50" y="654.60" text-anchor="middle" font-size="12.5">1997</text>
<line x1="508.82" y1="642.20" x2="508.82" y2="644.40" stroke="#999" stroke-width="0.8"/>
<text x="508.82" y="654.60" text-anchor="middle" font-size="12.5">2001</text>
<line x1="550.47" y1="642.20" x2="550.47" y2="644.40" stroke="#999" stroke-width="0.8"/>
<text x="550.47" y="654.60" text-anchor="middle" font-size="12.5">2006</text>
<line x1="600.45" y1="642.20" x2="600.45" y2="644.40" stroke="#999" stroke-width="0.8"/>
<text x="600.45" y="654.60" text-anchor="middle" font-size="12.5">2012</text>
<line x1="650.43" y1="642.20" x2="650.43" y2="644.40" stroke="#999" stroke-width="0.8"/>
<text x="650.43" y="654.60" text-anchor="middle" font-size="12.5">2018</text>
<line x1="372.40" y1="642.00" x2="374.60" y2="642.00" stroke="#999" stroke-width="0.8"/>
<text x="371.20" y="646.30" text-anchor="end" font-size="12.5">0</text>
<line x1="372.40" y1="607.74" x2="374.60" y2="607.74" stroke="#999" stroke-width="0.8"/>
<text x="371.20" y="612.04" text-anchor="end" font-size="12.5">200</text>
<line x1="372.40" y1="573.48" x2="374.60" y2="573.48" stroke="#999" stroke-width="0.8"/>
<text x="371.20" y="577.78" text-anchor="end" font-size="12.5">400</text>
<line x1="372.40" y1="539.22" x2="374.60" y2="539.22" stroke="#999" stroke-width="0.8"/>
<text x="371.20" y="543.52" text-anchor="end" font-size="12.5">600</text>
<line x1="372.40" y1="504.96" x2="374.60" y2="504.96" stroke="#999" stroke-width="0.8"/>
<text x="371.20" y="509.26" text-anchor="end" font-size="12.5">800</text>
<line x1="372.40" y1="470.70" x2="374.60" y2="470.70" stroke="#999" stroke-width="0.8"/>
<text x="371.20" y="475.00" text-anchor="end" font-size="12.5">1000</text>
<line x1="372.40" y1="436.44" x2="374.60" y2="436.44" stroke="#999" stroke-width="0.8"/>
<text x="371.20" y="440.74" text-anchor="end" font-size="12.5">1200</text>
<line x1="372.40" y1="402.18" x2="374.60" y2="402.18" stroke="#999" stroke-width="0.8"/>
<text x="371.20" y="406.48" text-anchor="end" font-size="12.5">1400</text>
<line x1="372.40" y1="367.92" x2="374.60" y2="367.92" stroke="#999" stroke-width="0.8"/>
<text x="371.20" y="372.22" text-anchor="end" font-size="12.5">1600</text>
<line x1="395.7" y1="391.2" x2="420.2" y2="391.2" stroke="#111" stroke-width="1.3" stroke-dasharray="3.2 1.9"/>
<text x="429.80" y="395.60" font-size="14.3" text-anchor="start" textLength="58.00" lengthAdjust="spacingAndGlyphs">Trend Line</text>
<text x="362.60" y="347.10" font-size="18" text-anchor="start" textLength="13.40" lengthAdjust="spacingAndGlyphs">d)</text>
<text x="447.80" y="347.90" font-size="15" text-anchor="start" textLength="191.00" lengthAdjust="spacingAndGlyphs">Total Mean Evapotranspiration</text>
<text x="525.70" y="667.70" font-size="13.5" text-anchor="middle">Year</text>
<line x1="51.8" y1="679.2" x2="76.0" y2="679.2" stroke="#eac232" stroke-width="1" stroke-dasharray="1 1.4"/>
<circle cx="63.90" cy="679.2" r="1.9" fill="#eac232"/>
<rect x="51.8" y="685.8" width="24.20" height="8.2" fill="#eac232"/>
<text x="79.90" y="691.40" font-size="15" text-anchor="start" textLength="115.50" lengthAdjust="spacingAndGlyphs">Dry Season Cropping</text>
<line x1="298.9" y1="679.2" x2="323.9" y2="679.2" stroke="#4c96e8" stroke-width="1" stroke-dasharray="1 1.4"/>
<circle cx="311.40" cy="679.2" r="1.9" fill="#4c96e8"/>
<rect x="298.9" y="685.8" width="25.00" height="8.2" fill="#4c96e8"/>
<text x="328.50" y="691.40" font-size="15" text-anchor="start" textLength="94.80" lengthAdjust="spacingAndGlyphs">Double Cropping</text>
<line x1="516.7" y1="679.2" x2="540.5" y2="679.2" stroke="#d82b68" stroke-width="1" stroke-dasharray="1 1.4"/>
<circle cx="528.60" cy="679.2" r="1.9" fill="#d82b68"/>
<rect x="516.7" y="685.8" width="23.80" height="8.2" fill="#d82b68"/>
<text x="548.60" y="691.40" font-size="15" text-anchor="start" textLength="116.10" lengthAdjust="spacingAndGlyphs">Wet Season Cropping</text>
</svg></body></html>
